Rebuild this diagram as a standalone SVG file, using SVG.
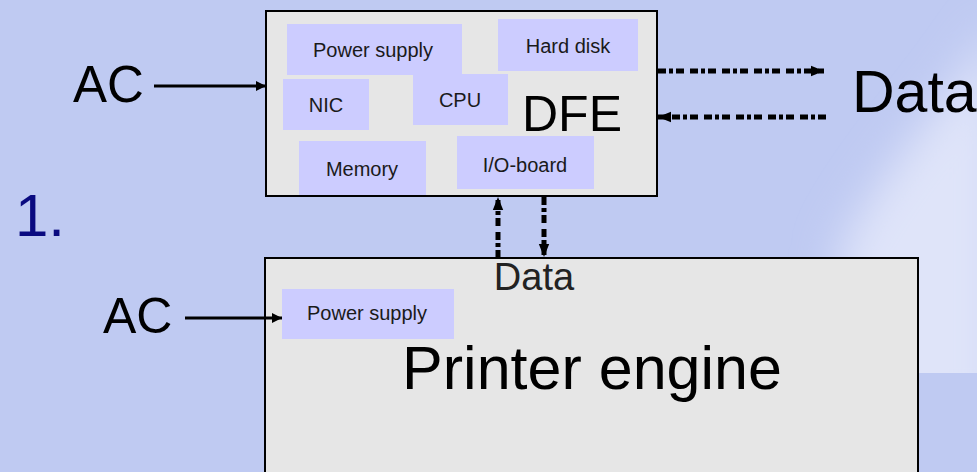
<svg xmlns="http://www.w3.org/2000/svg" width="977" height="472" viewBox="0 0 977 472">
<defs>
<style>
.box{fill:#e6e6e6;stroke:#000;stroke-width:2}
.part{fill:#ccccff}
.t{font-family:"Liberation Sans",Arial,sans-serif;fill:#000}
.s{font-size:20px;text-anchor:middle;fill:#1a1a1a}
.wire{stroke:#000;stroke-width:3;fill:none}
.dash{stroke:#000;stroke-width:5;fill:none;stroke-dasharray:8 3 4 3 8 6}
</style>
<marker id="ah" viewBox="0 0 10 10" refX="10" refY="5" markerWidth="10" markerHeight="10" markerUnits="userSpaceOnUse" orient="auto-start-reverse">
<path d="M0,0 L10,5 L0,10 z" fill="#000"/>
</marker>
<marker id="ahd" viewBox="0 0 10 10" refX="10" refY="5" markerWidth="13" markerHeight="13" markerUnits="userSpaceOnUse" orient="auto-start-reverse">
<path d="M0,1 L10,5 L0,9 z" fill="#000"/>
</marker>
<filter id="blur" x="-50%" y="-50%" width="200%" height="200%"><feGaussianBlur stdDeviation="22"/></filter>
<clipPath id="cg"><rect x="0" y="0" width="977" height="373"/></clipPath>
</defs>

<rect x="0" y="0" width="977" height="472" fill="#bfcaf2"/>
<g clip-path="url(#cg)">
<path d="M1000,20 C950,100 880,170 840,250 L835,420 L1000,420 Z" fill="#dfe4f9" filter="url(#blur)"/>
</g>

<text class="t" x="15" y="236" font-size="60" fill="#0a0a80" style="fill:#0a0a80">1.</text>

<g id="dfe">
<rect class="box" x="266" y="11" width="391" height="185"/>
<rect class="part" x="498" y="19" width="140" height="52"/>
<rect class="part" x="413" y="74" width="95" height="51"/>
<rect class="part" x="287" y="24" width="175" height="51"/>
<rect class="part" x="283" y="79" width="86" height="51"/>
<rect class="part" x="299" y="141" width="127" height="54"/>
<rect class="part" x="457" y="136" width="137" height="53"/>
<text class="t s" x="373" y="57">Power supply</text>
<text class="t s" x="568" y="53">Hard disk</text>
<text class="t s" x="326" y="112">NIC</text>
<text class="t s" x="460" y="107">CPU</text>
<text class="t s" x="362" y="176">Memory</text>
<text class="t s" x="525" y="172">I/O-board</text>
<text class="t" x="572" y="131" font-size="50" text-anchor="middle">DFE</text>
</g>

<g id="printer">
<rect class="box" x="265" y="258" width="653" height="230"/>
<rect class="part" x="282" y="289" width="172" height="50"/>
<text class="t s" x="367" y="320">Power supply</text>
<text class="t" x="592" y="389" font-size="61" text-anchor="middle">Printer engine</text>
<text class="t" x="534" y="290" font-size="38" text-anchor="middle" style="fill:#222">Data</text>
</g>

<g id="labels">
<text class="t" x="73" y="102" font-size="51">AC</text>
<text class="t" x="103" y="333" font-size="50">AC</text>
<text class="t" x="852" y="112" font-size="59">Data</text>
</g>

<g id="connectors">
<line class="wire" x1="154" y1="86" x2="266" y2="86" marker-end="url(#ah)"/>
<line class="wire" x1="185" y1="318" x2="282" y2="318" marker-end="url(#ah)"/>
<line class="dash" x1="658" y1="71" x2="824" y2="71" marker-end="url(#ahd)"/>
<line class="dash" x1="826" y1="117" x2="658" y2="117" marker-end="url(#ahd)"/>
<line class="dash" x1="498" y1="258" x2="498" y2="197" marker-end="url(#ahd)"/>
<line class="dash" x1="544" y1="197" x2="544" y2="257" marker-end="url(#ahd)"/>
</g>
</svg>
